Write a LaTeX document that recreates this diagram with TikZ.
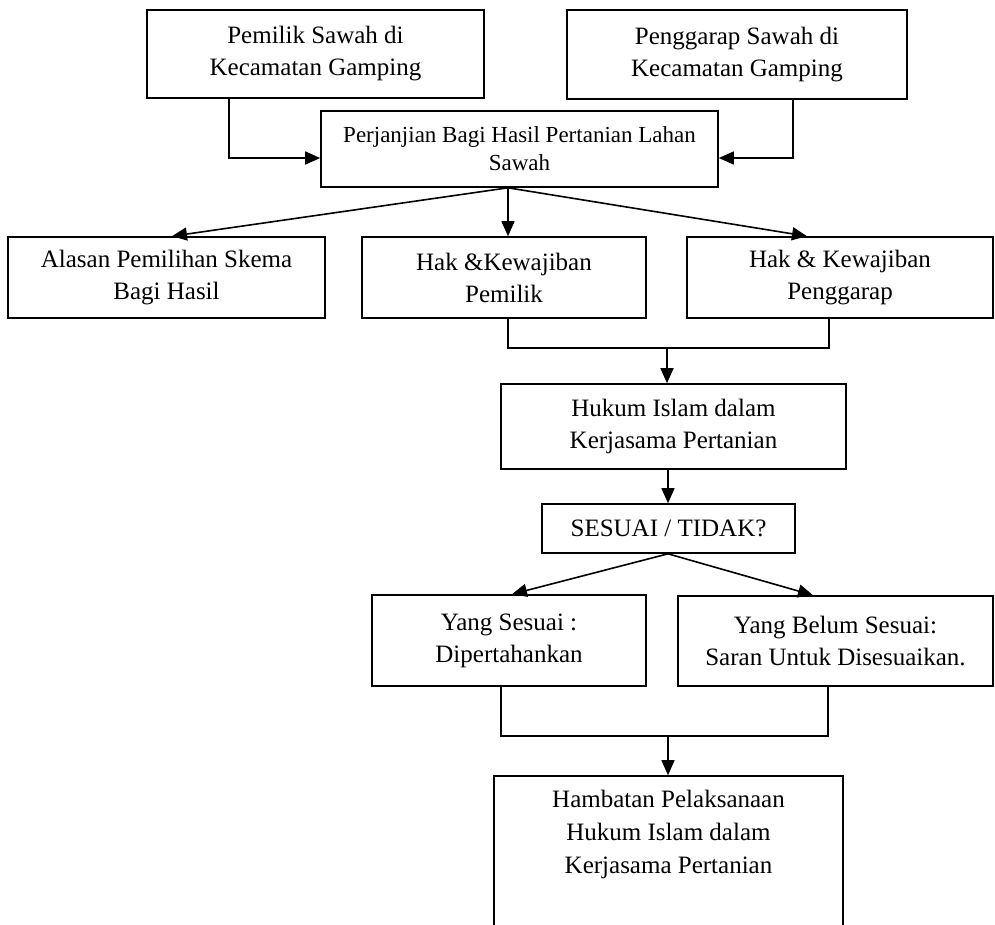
\documentclass[tikz,border=0pt]{standalone}
\usepackage{fontspec}
\setmainfont{Liberation Serif}
\usetikzlibrary{arrows.meta}
\begin{document}
\begin{tikzpicture}[x=1pt,y=-1pt,
  box/.style={draw, line width=1.6pt, align=center, inner sep=0pt,
    font=\fontsize{25}{32}\selectfont},
  arr/.style={line width=1.6pt, -{Triangle[length=15pt,width=13pt]}},
  ln/.style={line width=1.6pt}]
\clip (0,0) rectangle (995,924);
% boxes
\node[box, minimum width=337, minimum height=88] (p1) at (315.5,54) {Pemilik Sawah di\\Kecamatan Gamping};
\node[box, minimum width=340, minimum height=89] (p2) at (737,54.5) {Penggarap Sawah di\\Kecamatan Gamping};
\node[box, minimum width=397, minimum height=76, font=\fontsize{23}{28}\selectfont] (pj) at (519.5,149) {Perjanjian Bagi Hasil Pertanian Lahan\\Sawah};
\node[box, minimum width=317, minimum height=81] (al) at (166.5,277.5) {Alasan Pemilihan Skema\\Bagi Hasil};
\node[box, minimum width=284, minimum height=81] (hp) at (504,277.5) {Hak \&Kewajiban\\Pemilik};
\node[box, minimum width=306, minimum height=81] (hg) at (840,277.5) {Hak \& Kewajiban\\Penggarap};
\node[box, minimum width=345, minimum height=85] (hk) at (673.5,426.5) {Hukum Islam dalam\\Kerjasama Pertanian};
\node[box, minimum width=253, minimum height=49] (ss) at (668.5,528.5) {SESUAI / TIDAK?};
\node[box, minimum width=274, minimum height=91] (ys) at (509,640.5) {Yang Sesuai :\\Dipertahankan};
\node[box, minimum width=315, minimum height=90] (yb) at (835.5,641) {Yang Belum Sesuai:\\Saran Untuk Disesuaikan.};
\node[box, minimum width=349, minimum height=200] (hb) at (668.5,876) {};
\node[align=center, inner sep=0pt, anchor=north, font=\fontsize{25}{33}\selectfont] (hbt) at ([yshift=-15pt]hb.north) {Hambatan Pelaksanaan\\Hukum Islam dalam\\Kerjasama Pertanian};
% helper coordinates
\coordinate (xa) at (229,158);
\coordinate (xb) at (793,158);
\coordinate (xc) at (508,0);
\coordinate (xd) at (172,0);
\coordinate (xe) at (807,0);
\coordinate (b1l) at (508,348);
\coordinate (b1r) at (829,348);
\coordinate (b1m) at (667,348);
\coordinate (xf) at (668,0);
\coordinate (xg) at (512,0);
\coordinate (xh) at (813,0);
\coordinate (b2l) at (501,736);
\coordinate (b2r) at (828,736);
\coordinate (b2m) at (668,736);
% connectors
\draw[arr] (p1.south -| xa) |- (pj.west |- xa);
\draw[arr] (p2.south -| xb) |- (pj.east |- xb);
\draw[arr] (pj.south -| xc) -- (al.north -| xd);
\draw[arr] (pj.south -| xc) -- (hp.north -| xc);
\draw[arr] (pj.south -| xc) -- (hg.north -| xe);
\draw[ln] (hp.south -| b1l) -- (b1l) -- (b1r) -- (hg.south -| b1r);
\draw[arr] (b1m) -- (hk.north -| b1m);
\draw[arr] (hk.south -| xf) -- (ss.north -| xf);
\draw[arr] (ss.south -| xf) -- (ys.north -| xg);
\draw[arr] (ss.south -| xf) -- (yb.north -| xh);
\draw[ln] (ys.south -| b2l) -- (b2l) -- (b2r) -- (yb.south -| b2r);
\draw[arr] (b2m) -- (hb.north -| b2m);
\end{tikzpicture}
\end{document}
